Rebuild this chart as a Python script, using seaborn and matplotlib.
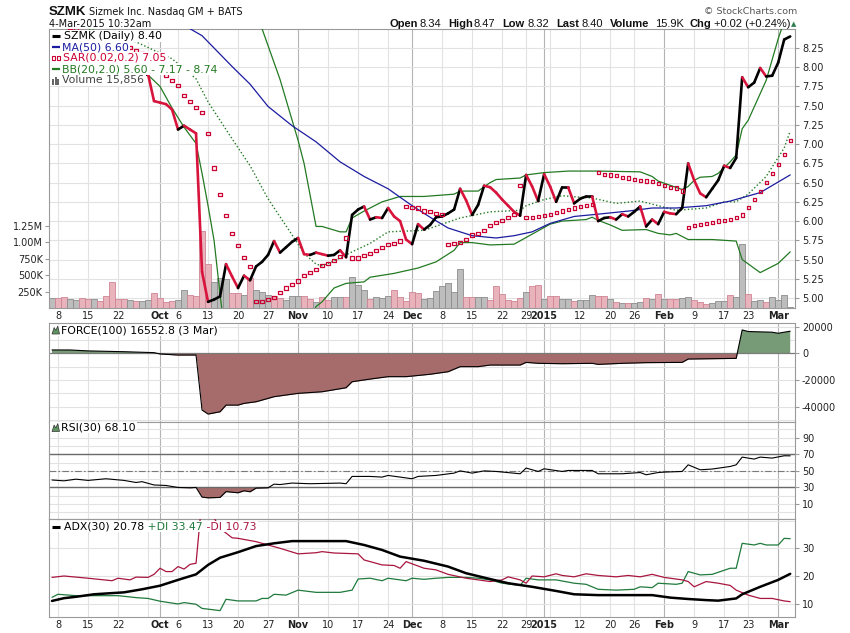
import numpy as np
import pandas as pd
import matplotlib
matplotlib.use("Agg")
import matplotlib.pyplot as plt
import matplotlib.transforms as mtransforms
from matplotlib.collections import LineCollection
from matplotlib.patches import Rectangle, Polygon
from matplotlib.lines import Line2D
import seaborn as sns

# ---------------- data ----------------
HOLIDAYS = ["2014-11-27", "2014-12-25", "2015-01-01", "2015-01-19", "2015-02-16"]
trading_days = pd.bdate_range("2014-09-05", "2015-03-04", freq="C", holidays=HOLIDAYS)

close = [
    8.30, 8.22, 8.15, 8.20, 8.24, 8.16, 8.10, 8.14, 8.08, 8.03,
    7.98, 7.94, 7.90, 7.93, 7.87, 7.89, 7.91, 7.56, 7.54, 7.52,
    7.45, 7.19, 7.24, 7.19, 7.14, 5.34, 4.95, 4.98, 5.02, 5.44,
    5.28, 5.13, 5.29, 5.23, 5.41, 5.47, 5.56, 5.74, 5.59, 5.66,
    5.73, 5.78, 5.57, 5.56, 5.59, 5.57, 5.55, 5.56, 5.62, 5.53,
    6.08, 6.15, 6.19, 6.02, 6.05, 6.04, 6.17, 6.06, 6.00, 5.76,
    5.70, 5.96, 5.89, 5.95, 6.05, 6.06, 6.10, 6.15, 6.42, 6.27,
    6.08, 6.21, 6.46, 6.44, 6.37, 6.28, 6.20, 6.12, 6.07, 6.60,
    6.45, 6.26, 6.61, 6.45, 6.25, 6.44, 6.44, 6.23, 6.29, 6.32,
    6.32, 6.00, 6.04, 6.05, 6.02, 6.09, 6.06, 6.12, 6.19, 5.93,
    6.02, 5.96, 6.12, 6.10, 6.09, 6.17, 6.75, 6.53, 6.36, 6.31,
    6.42, 6.53, 6.72, 6.69, 6.82, 7.87, 7.74, 7.80, 7.99, 7.88,
    7.89, 8.06, 8.36, 8.40]

volume_k = [
    150, 150, 160, 130, 120, 150, 130, 140, 100, 180,
    390, 130, 140, 120, 100, 100, 120, 220, 150, 90,
    100, 120, 270, 200, 180, 1170, 660, 390, 460, 440,
    220, 220, 200, 460, 280, 240, 200, 180, 150, 120,
    180, 180, 180, 130, 90, 160, 120, 160, 160, 160,
    470, 350, 270, 130, 160, 150, 180, 280, 160, 100,
    240, 220, 140, 150, 265, 336, 377, 240, 590, 165,
    165, 165, 165, 124, 336, 210, 124, 109, 150, 240,
    336, 347, 135, 175, 185, 140, 130, 110, 115, 115,
    200, 180, 180, 130, 90, 80, 80, 80, 90, 150,
    130, 215, 130, 140, 130, 150, 160, 124, 84, 59,
    74, 99, 99, 195, 160, 968, 210, 99, 120, 84,
    160, 124, 195, 16]

vol_down = [
    0, 1, 1, 0, 0, 1, 1, 0, 1, 1,
    1, 1, 1, 0, 1, 0, 0, 1, 1, 1,
    1, 0, 0, 1, 1, 1, 1, 0, 0, 0,
    1, 1, 0, 1, 0, 0, 0, 1, 1, 0,
    0, 0, 1, 1, 0, 1, 1, 0, 0, 1,
    0, 0, 0, 1, 0, 0, 0, 1, 1, 1,
    1, 1, 0, 0, 0, 0, 0, 0, 0, 1,
    1, 0, 0, 1, 1, 1, 1, 1, 1, 0,
    1, 1, 0, 1, 1, 0, 0, 1, 0, 0,
    0, 1, 1, 0, 1, 0, 1, 0, 0, 1,
    0, 1, 0, 1, 1, 0, 0, 1, 1, 1,
    0, 0, 0, 1, 0, 0, 1, 0, 0, 1,
    0, 0, 0, 0]

sar = [
    8.62, 8.58, 8.55, 8.52, 8.49, 8.46, 8.43, 8.41, 8.39, 8.37,
    8.35, 8.33, 8.31, 8.26, 8.22, 8.18, 8.12, 8.08, 7.99, 7.89,
    7.83, 7.76, 7.63, 7.55, 7.48, 7.41, 7.14, 6.69, 6.35, 6.07,
    5.84, 5.68, 5.53, 5.41, 4.95, 4.95, 4.98, 5.01, 5.07, 5.13,
    5.18, 5.22, 5.29, 5.33, 5.37, 5.42, 5.45, 5.49, 5.54, 5.78,
    5.52, 5.52, 5.55, 5.58, 5.62, 5.66, 5.70, 5.71, 5.74, 6.19,
    6.18, 6.17, 6.13, 6.12, 6.10, 6.09, 5.70, 5.71, 5.72, 5.76,
    5.82, 5.84, 5.88, 5.94, 5.98, 6.01, 6.05, 6.09, 6.46, 6.05,
    6.05, 6.06, 6.07, 6.09, 6.11, 6.13, 6.15, 6.17, 6.19, 6.20,
    6.22, 6.63, 6.61, 6.60, 6.59, 6.57, 6.56, 6.54, 6.53, 6.52,
    6.51, 6.49, 6.46, 6.44, 6.43, 6.39, 5.92, 5.94, 5.96, 5.97,
    5.98, 6.00, 6.01, 6.02, 6.05, 6.08, 6.18, 6.28, 6.38, 6.50,
    6.62, 6.74, 6.87, 7.05]

ma50_idx = [20, 23, 25, 27, 30, 33, 36, 40, 44, 48, 52, 56, 60, 63, 66, 70, 74, 77, 80, 83,
            87, 91, 96, 100, 104, 109, 113, 118, 123]
ma50_val = [8.72, 8.50, 8.41, 8.25, 8.01, 7.78, 7.49, 7.24, 7.03, 6.77, 6.58, 6.42, 6.20, 6.05,
            5.91, 5.81, 5.78, 5.81, 5.86, 5.97, 6.06, 6.09, 6.13, 6.17, 6.17, 6.20, 6.26, 6.37, 6.60]

bb_up_idx = [16, 24, 30, 33, 35, 38, 41, 42, 44, 45, 48, 49, 50, 52, 55, 58, 62, 67, 68, 71,
             73, 74, 78, 79, 82, 86, 91, 98, 100, 101, 105, 106, 107, 108, 110, 111, 113, 114,
             115, 116, 119, 121, 122, 123]
bb_up_val = [9.00, 9.40, 9.35, 8.95, 8.50, 7.84, 7.05, 6.75, 5.93, 5.93, 5.86, 5.86, 6.04, 6.13,
             6.25, 6.32, 6.32, 6.35, 6.39, 6.39, 6.50, 6.54, 6.56, 6.60, 6.63, 6.65, 6.65, 6.64,
             6.58, 6.52, 6.41, 6.45, 6.53, 6.57, 6.58, 6.62, 6.77, 6.86, 7.20, 7.31, 7.83, 8.37,
             8.60, 8.74]

bb_mid_idx = [5, 10, 14, 20, 24, 26, 30, 33, 36, 40, 42, 44, 45, 47, 50, 53, 56, 62, 68, 73,
              78, 79, 82, 85, 88, 90, 94, 98, 101, 104, 109, 112, 114, 116, 119, 122, 123]
bb_mid_val = [8.52, 8.42, 8.33, 8.11, 7.85, 7.55, 7.07, 6.72, 6.29, 5.82, 5.58, 5.44, 5.42, 5.48,
              5.60, 5.71, 5.86, 5.88, 6.04, 6.12, 6.14, 6.20, 6.28, 6.33, 6.31, 6.30, 6.23, 6.26,
              6.20, 6.14, 6.17, 6.25, 6.25, 6.35, 6.58, 6.95, 7.17]

bb_lo_idx = [10, 14, 16, 18, 20, 22, 24, 25, 26, 27, 28, 29, 32, 36, 40, 43, 44, 45, 47, 49,
             52, 53, 57, 61, 64, 67, 68, 70, 73, 77, 80, 83, 85, 89, 90, 91, 93, 95, 99, 101,
             103, 104, 106, 110, 114, 115, 118, 121, 123]
bb_lo_val = [8.10, 7.98, 7.90, 7.75, 7.47, 7.22, 7.01, 6.62, 6.20, 5.75, 5.05, 4.40, 3.95, 3.80,
             4.10, 4.72, 4.89, 4.95, 5.13, 5.19, 5.21, 5.27, 5.32, 5.39, 5.47, 5.62, 5.72, 5.72,
             5.69, 5.70, 5.83, 5.96, 6.00, 6.02, 6.05, 6.01, 5.95, 5.88, 5.89, 5.84, 5.82, 5.84,
             5.76, 5.76, 5.74, 5.50, 5.33, 5.45, 5.60]

force_idx = [0, 3, 6, 12, 17, 18, 21, 24, 25, 26, 28, 29, 31, 32, 34, 37, 41, 45, 49, 50,
             53, 56, 59, 63, 66, 68, 71, 73, 78, 79, 81, 85, 90, 91, 95, 99, 105, 106, 114, 115,
             116, 120, 121, 122, 123]
force_val = [2500, 2500, 1800, 1200, 500, -500, -1300, -1300, -42500, -45500,
             -43800, -38800, -38800, -37500, -36300, -32500, -30000, -28800, -25800, -21300,
             -19300, -17500, -17500, -15700, -13800, -10000, -10000, -8800, -8800, -6800,
             -7500, -7800, -7500, -8300, -7500, -7000, -6800, -4300, -3800, 17500,
             16300, 15800, 15000, 15800, 16552.8]

rsi_idx = [0, 2, 4, 6, 9, 12, 14, 15, 17, 19, 21, 23, 24, 25, 26, 28, 29, 31, 32, 33,
           34, 36, 37, 38, 40, 43, 48, 49, 50, 53, 55, 56, 58, 60, 61, 64, 67, 68, 70, 72,
           74, 78, 79, 81, 82, 85, 86, 90, 91, 95, 98, 99, 101, 102, 105, 106, 108, 110, 113, 114,
           115, 117, 118, 120, 122, 123]
rsi_val = [39.0, 38.0, 40.0, 38.5, 40.5, 38.5, 36.0, 37.0, 33.0, 32.4, 30.0, 29.6, 30.0, 18.4,
           17.5, 18.0, 25.0, 23.6, 26.0, 24.8, 29.2, 29.6, 34.0, 33.5, 35.3, 34.5, 35.3, 34.5,
           43.3, 43.3, 42.5, 44.5, 42.5, 40.5, 43.3, 44.5, 47.3, 50.0, 47.3, 50.0, 49.3, 46.5,
           53.4, 49.3, 52.5, 49.3, 50.5, 50.5, 46.5, 46.5, 48.0, 45.3, 48.0, 48.5, 49.3, 57.3,
           51.3, 52.2, 55.3, 57.3, 66.6, 64.2, 66.6, 65.4, 68.2, 68.1]

adx_idx = [0, 2, 4, 7, 12, 15, 18, 21, 24, 26, 28, 31, 34, 37, 40, 46, 49, 52, 55, 58,
           62, 66, 69, 73, 76, 80, 84, 87, 91, 95, 100, 103, 106, 109, 111, 114, 115, 118, 121, 123]
adx_val = [11.0, 12.0, 12.5, 13.4, 14.1, 15.2, 16.5, 18.6, 20.6, 24.0, 26.6, 28.6, 30.8, 31.8,
           32.6, 32.6, 32.6, 31.2, 29.4, 27.0, 25.5, 23.4, 21.0, 18.9, 17.4, 16.1, 14.6, 13.4,
           13.1, 13.1, 13.1, 12.2, 11.7, 11.3, 11.1, 11.9, 13.4, 16.1, 18.6, 20.78]

pdi_idx = [0, 1, 4, 11, 14, 16, 18, 21, 22, 24, 25, 28, 29, 31, 34, 35, 36, 37, 39, 41,
           44, 48, 50, 51, 53, 55, 56, 59, 60, 62, 64, 66, 69, 71, 73, 75, 78, 79, 81, 84,
           87, 89, 91, 94, 97, 98, 100, 101, 104, 105, 106, 108, 110, 113, 114, 115, 117, 118,
           119, 121, 122, 123]
pdi_val = [12.3, 13.4, 12.9, 12.9, 12.2, 11.9, 10.9, 9.9, 10.4, 9.8, 8.3, 7.5, 11.6, 11.0,
           11.0, 11.9, 11.9, 13.4, 13.1, 14.9, 14.1, 14.1, 14.9, 18.9, 19.2, 18.3, 19.2, 18.3,
           19.2, 18.8, 19.2, 19.5, 19.5, 19.2, 18.6, 17.4, 16.6, 19.2, 18.6, 18.6, 17.4, 17.0,
           15.2, 14.9, 15.2, 16.1, 15.8, 17.4, 17.0, 17.4, 21.6, 20.4, 20.6, 22.8, 22.8, 31.8,
           31.2, 31.8, 31.2, 31.2, 33.6, 33.47]

mdi_idx = [0, 2, 6, 10, 11, 13, 14, 16, 17, 18, 19, 20, 21, 22, 23, 24, 25, 26, 27, 28,
           30, 31, 34, 36, 38, 41, 44, 45, 47, 51, 52, 55, 57, 58, 59, 62, 64, 66, 69, 71,
           73, 75, 76, 78, 79, 80, 82, 84, 85, 87, 89, 91, 94, 96, 98, 100, 102, 105, 106, 107,
           109, 111, 113, 114, 116, 118, 120, 122, 123]
mdi_val = [19.5, 20.0, 19.2, 18.3, 19.2, 18.6, 19.6, 19.5, 20.6, 22.8, 21.6, 21.6, 23.4, 22.5,
           24.2, 24.6, 48.0, 45.0, 41.0, 37.2, 33.8, 33.6, 32.4, 31.2, 30.0, 28.0, 28.4, 28.8,
           28.3, 28.0, 25.8, 24.0, 23.8, 22.8, 25.2, 22.8, 22.2, 20.6, 19.2, 18.6, 18.0, 18.6,
           19.7, 18.6, 17.4, 20.0, 19.7, 20.8, 20.2, 19.7, 20.8, 20.2, 19.7, 20.2, 19.7, 20.6,
           19.5, 18.6, 18.0, 16.1, 18.0, 17.4, 16.6, 14.9, 13.1, 11.9, 11.9, 11.0, 10.73]

week_ticks = ["2014-09-08", "2014-09-15", "2014-09-22", "2014-09-29", "2014-10-06", "2014-10-13",
              "2014-10-20", "2014-10-27", "2014-11-10", "2014-11-17", "2014-11-24", "2014-12-08",
              "2014-12-15", "2014-12-22", "2014-12-29", "2015-01-05", "2015-01-12", "2015-01-20",
              "2015-01-26", "2015-02-09", "2015-02-17", "2015-02-23"]
week_labels = ["8", "15", "22", "", "6", "13", "20", "27", "10", "17", "24", "8", "15", "22",
               "29", "", "12", "20", "26", "9", "17", "23"]
month_ticks = ["2014-10-01", "2014-11-03", "2014-12-01", "2015-01-02", "2015-02-02", "2015-03-02"]
month_labels = ["Oct", "Nov", "Dec", "2015", "Feb", "Mar"]

price_ticks = [5.00, 5.25, 5.50, 5.75, 6.00, 6.25, 6.50, 6.75, 7.00, 7.25, 7.50, 7.75, 8.00, 8.25]
vol_ticks = [250000, 500000, 750000, 1000000, 1250000]
vol_tick_labels = ["250K", "500K", "750K", "1.00M", "1.25M"]
force_ticks = [20000, 0, -20000, -40000]
force_tick_labels = ["20000", "0", "-20000", "-40000"]
rsi_ticks = [10, 30, 50, 70, 90]
adx_ticks = [10, 20, 30]

# ---------------- styling ----------------
sns.set_theme(style="white")
plt.rcParams["font.family"] = ["DejaVu Sans"]

RED = "#d8143c"
SAR_RED = "#cc0033"
NAVY = "#1c1ca0"
GREEN = "#237a23"
GRID = "#e2e2e2"
GRID_M = "#b4b4b4"
FRAME = "#9a9a9a"
POS_FILL = "#769b76"
NEG_FILL = "#a66c6c"
LBL = "#222222"
LEG_FS = 7.8

W, H = 850, 633
fig = plt.figure(figsize=(W / 100, H / 100), dpi=100)
fig.patch.set_facecolor("white")
L, R = 49, 795


def rect(top, bottom):
    return [L / W, 1 - bottom / H, (R - L) / W, (bottom - top) / H]


ax_v = fig.add_axes(rect(29, 308))
ax_p = fig.add_axes(rect(29, 308), sharex=ax_v)
ax_f = fig.add_axes(rect(323, 421.5), sharex=ax_v)
ax_r = fig.add_axes(rect(421.5, 518.5), sharex=ax_v)
ax_a = fig.add_axes(rect(518.5, 616.5), sharex=ax_v)
ax_p.patch.set_visible(False)
ax_p.set_zorder(ax_v.get_zorder() + 1)

x = np.arange(len(close))


def pos(d):
    return trading_days.get_loc(pd.Timestamp(d))


week_pos = [pos(d) for d in week_ticks]
month_pos = [pos(d) for d in month_ticks]

for ax in (ax_v, ax_f, ax_r, ax_a):
    for p in week_pos:
        ax.axvline(p, color=GRID, lw=0.8, zorder=0)
    for p in month_pos:
        ax.axvline(p, color=GRID_M, lw=0.8, zorder=0)
    for s in ax.spines.values():
        s.set_color(FRAME)
        s.set_linewidth(0.8)
for s in ax_p.spines.values():
    s.set_visible(False)

# price-level grid drawn behind the volume bars
tr = mtransforms.blended_transform_factory(ax_v.transAxes, ax_p.transData)
for lvl in price_ticks:
    ax_v.plot([0, 1], [lvl, lvl], transform=tr, color=GRID, lw=0.8, zorder=0)

# volume
vol = np.array(volume_k) * 1000.0
down = np.array(vol_down, dtype=bool)
ax_v.bar(x, vol, width=0.92,
         color=["#e8b3bb" if d else "#bdbdbd" for d in down],
         edgecolor=["#cf8595" if d else "#8c8c8c" for d in down],
         linewidth=0.6, zorder=2)
ax_v.set_ylim(0, 4.23e6)
ax_v.set_yticks(vol_ticks, vol_tick_labels)
ax_v.tick_params(axis="y", left=True, right=False, labelleft=True, labelright=False,
                 length=3, width=0.8, color=FRAME, pad=1.5, labelsize=7, labelcolor=LBL)

# bollinger / MA
sns.lineplot(x=bb_up_idx, y=bb_up_val, ax=ax_p, color=GREEN, linewidth=0.9, zorder=3)
sns.lineplot(x=bb_lo_idx, y=bb_lo_val, ax=ax_p, color=GREEN, linewidth=0.9, zorder=3)
sns.lineplot(x=bb_mid_idx, y=bb_mid_val, ax=ax_p, color=GREEN, linewidth=1.0,
             linestyle=(0, (1, 1.6)), zorder=3)
sns.lineplot(x=ma50_idx, y=ma50_val, ax=ax_p, color=NAVY, linewidth=0.9, zorder=3)

# price line coloured by direction
cl = np.array(close)
pts = np.column_stack([x, cl])
segs = np.stack([pts[:-1], pts[1:]], axis=1)
seg_cols = [RED if d < 0 else "black" for d in np.diff(cl)]
ax_p.add_collection(LineCollection(segs, colors=seg_cols, linewidths=1.9,
                                   capstyle="round", joinstyle="round", zorder=4))

# parabolic SAR
ax_p.scatter(x, sar, marker="s", s=5.5, facecolors="none", edgecolors=SAR_RED,
             linewidths=0.9, zorder=5)

ax_p.set_ylim(4.87, 8.497)
ax_p.set_yticks(price_ticks, [f"{v:.2f}" for v in price_ticks])
ax_p.tick_params(axis="y", left=False, right=True, labelleft=False, labelright=True,
                 length=3, width=0.8, color=FRAME, pad=2, labelsize=7, labelcolor=LBL)
ax_p.set_ylabel("")

# force index
fi = np.array(force_idx)
fv = np.array(force_val, dtype=float)
for g in [20000, 10000, -10000, -20000, -30000, -40000, -50000]:
    ax_f.axhline(g, color=GRID, lw=0.8, zorder=0)
ax_f.fill_between(fi, fv, 0, where=fv >= 0, interpolate=True, color=POS_FILL, lw=0, zorder=2)
ax_f.fill_between(fi, fv, 0, where=fv <= 0, interpolate=True, color=NEG_FILL, lw=0, zorder=2)
ax_f.axhline(0, color="#7a7a7a", lw=0.9, zorder=2.5)
sns.lineplot(x=fi, y=fv, ax=ax_f, color="black", linewidth=0.8, zorder=3)
ax_f.set_ylim(-51080, 22700)
ax_f.set_yticks(force_ticks, force_tick_labels)

# RSI
ri = np.array(rsi_idx)
rv = np.array(rsi_val)
for g in range(0, 101, 10):
    ax_r.axhline(g, color=GRID, lw=0.8, zorder=0)
ax_r.fill_between(ri, rv, 30, where=rv <= 30, interpolate=True, color=NEG_FILL, lw=0, zorder=2)
ax_r.fill_between(ri, rv, 70, where=rv >= 70, interpolate=True, color=POS_FILL, lw=0, zorder=2)
ax_r.axhline(70, color="#6a6a6a", lw=1.0, zorder=2.5)
ax_r.axhline(30, color="#6a6a6a", lw=1.0, zorder=2.5)
ax_r.axhline(50, color="#7a7a7a", lw=0.8, linestyle=(0, (6, 2, 1.5, 2)), zorder=2.5)
sns.lineplot(x=ri, y=rv, ax=ax_r, color="black", linewidth=0.8, zorder=3)
ax_r.set_ylim(-7.4, 109.5)
ax_r.set_yticks(rsi_ticks, [str(v) for v in rsi_ticks])

# ADX
for g in [10, 20, 30, 40]:
    ax_a.axhline(g, color=GRID, lw=0.8, zorder=0)
sns.lineplot(x=pdi_idx, y=pdi_val, ax=ax_a, color="#1f7a3c", linewidth=0.9, zorder=3)
sns.lineplot(x=mdi_idx, y=mdi_val, ax=ax_a, color="#a8163f", linewidth=0.9, zorder=3)
sns.lineplot(x=adx_idx, y=adx_val, ax=ax_a, color="black", linewidth=1.8, zorder=4)
ax_a.set_ylim(5.38, 40.76)
ax_a.set_yticks(adx_ticks, [str(v) for v in adx_ticks])

for ax in (ax_f, ax_r, ax_a):
    ax.yaxis.tick_right()
    ax.tick_params(axis="y", left=False, right=True, labelleft=False, labelright=True,
                   length=3, width=0.8, color=FRAME, pad=2, labelsize=7, labelcolor=LBL)
    ax.set_ylabel("")
for ax in (ax_v, ax_p, ax_f, ax_r, ax_a):
    ax.set_xlabel("")

# x axis
ax_v.set_xlim(-0.5, 123.8)
ax_v.set_xticks(month_pos, month_labels)
ax_v.set_xticks(week_pos, week_labels, minor=True)
for ax in (ax_v, ax_a):
    ax.tick_params(axis="x", which="both", bottom=True, length=0, pad=2.5, labelsize=7,
                   labelcolor=LBL, labelbottom=True)
    for t in ax.get_xticklabels(which="major"):
        t.set_fontweight("bold")
for ax in (ax_p, ax_f, ax_r):
    ax.tick_params(axis="x", which="both", length=0, labelbottom=False)

# ---------------- texts ----------------
renderer = fig.canvas.get_renderer()


def ftext(xp, yp, s, **kw):
    kw.setdefault("fontsize", 7)
    kw.setdefault("va", "center")
    z = kw.pop("zorder", 6)
    return fig.text(xp / W, 1 - yp / H, s, zorder=z, **kw)


def twidth(t):
    return t.get_window_extent(renderer=renderer).width


def legend_row(yp, x0, pieces, box_left=50, h=11):
    xx = x0
    for s, c in pieces:
        t = ftext(xx, yp, s, color=c, fontsize=LEG_FS)
        xx += twidth(t)
    fig.add_artist(Rectangle((box_left / W, 1 - (yp + h / 2) / H), (xx + 1.5 - box_left) / W,
                             h / H, transform=fig.transFigure, facecolor="white",
                             edgecolor="none", zorder=5))
    return xx


def fig_line(x0, x1, yp, color, lw):
    fig.add_artist(Line2D([x0 / W, x1 / W], [1 - yp / H] * 2, transform=fig.transFigure,
                          color=color, lw=lw, zorder=7, solid_capstyle="butt"))


def mountain(yp):
    pts_ = [(52, yp + 4), (54.2, yp - 2.5), (55.8, yp + 0.5), (57.8, yp - 4), (59.5, yp + 4)]
    fig.add_artist(Polygon([(px / W, 1 - py / H) for px, py in pts_], closed=True,
                           transform=fig.transFigure, facecolor="#5f935f",
                           edgecolor="#333333", lw=0.5, zorder=7))


# header
ftext(49, 15, "SZMK", fontsize=9.5, fontweight="bold", family="Liberation Sans", va="baseline",
      color="#111111")
ftext(89, 15, "Sizmek Inc. Nasdaq GM + BATS", fontsize=7, va="baseline", color="#111111")
ftext(49, 27, "4-Mar-2015 10:32am", fontsize=7, va="baseline", color="#111111")
ftext(797, 14, "\u00a9 StockCharts.com", fontsize=6.8, va="baseline", ha="right",
      color="#555555")
stats = [(389, "Open", True), (419, "8.34", False), (448, "High", True), (474, "8.47", False),
         (502, "Low", True), (528, "8.32", False), (556, "Last", True), (582, "8.40", False),
         (610, "Volume", True), (655, "15.9K", False), (690, "Chg", True),
         (714, "+0.02 (+0.24%)", False)]
for xp, s, b in stats:
    ftext(xp, 27, s, fontsize=8, family="Liberation Sans", va="baseline", color="#111111",
          fontweight="bold" if b else "normal")
ftext(794, 24, "\u25b2", fontsize=5, ha="center", color="#2e7d4f")

# price panel legend
legend_row(36, 64, [("SZMK (Daily) 8.40", "black")])
fig_line(52, 60, 36, "black", 2.2)
legend_row(47, 62, [("MA(50) 6.60", NAVY)])
fig_line(52, 59.5, 47, NAVY, 1.6)
legend_row(58, 63, [("SAR(0.02,0.2) 7.05", SAR_RED)])
for px in (53.5, 59.0):
    fig.add_artist(Rectangle(((px - 1.5) / W, 1 - (58 + 1.5) / H), 3 / W, 3 / H,
                             transform=fig.transFigure, facecolor="none", edgecolor=SAR_RED,
                             lw=0.8, zorder=7))
legend_row(69, 62, [("BB(20,2.0) 5.60 - 7.17 - 8.74", GREEN)])
fig_line(52, 59.5, 69, GREEN, 1.6)
legend_row(80, 62, [("Volume 15,856", "#444444")])
for bx, bh in ((52.3, 6), (54.8, 8), (57.3, 5)):
    fig.add_artist(Rectangle((bx / W, 1 - 84.5 / H), 2 / W, bh / H, transform=fig.transFigure,
                             facecolor="#666666", edgecolor="none", zorder=7))

# indicator legends
legend_row(330, 61, [("FORCE(100) 16552.8 (3 Mar)", "black")])
mountain(330)
legend_row(427.5, 61, [("RSI(30) 68.10", "black")])
mountain(427.5)
legend_row(526.5, 64, [("ADX(30) 20.78", "black"), (" +DI 33.47", "#1f7a3c"),
                       (" -DI 10.73", "#a8163f")])
fig_line(52, 60, 526.5, "black", 2.2)

fig.savefig("out.png", dpi=100, facecolor="white")
